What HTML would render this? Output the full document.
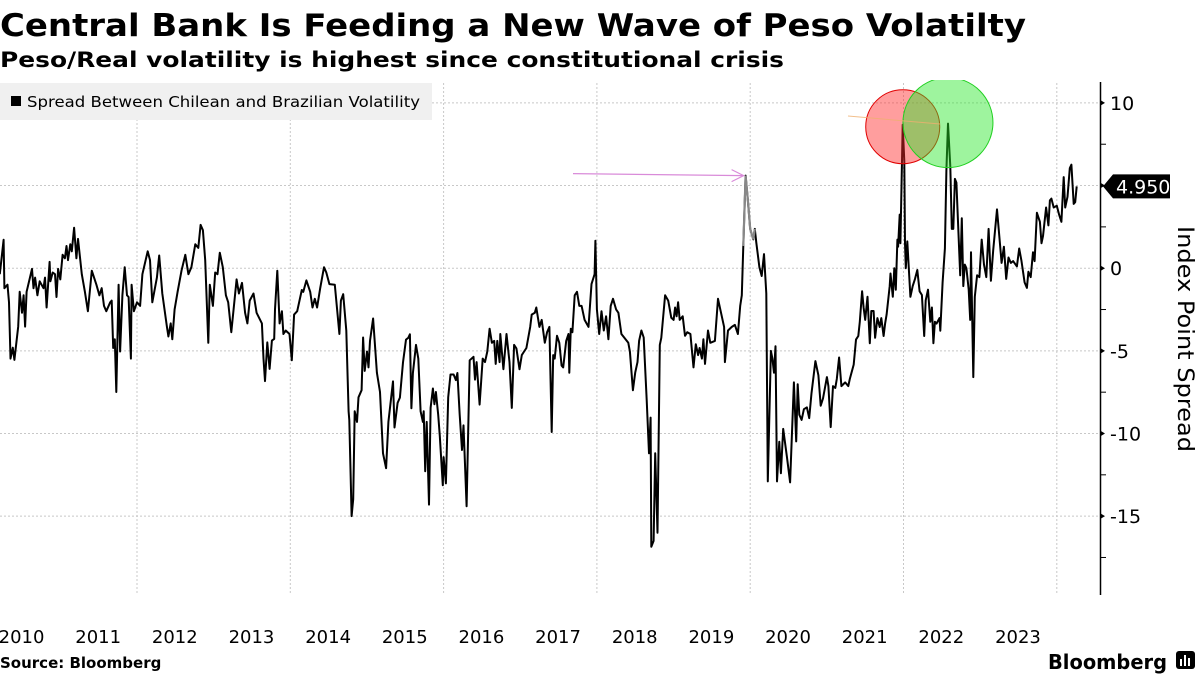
<!DOCTYPE html>
<html><head><meta charset="utf-8">
<style>
html,body{margin:0;padding:0;background:#fff;}
svg{display:block;font-family:"DejaVu Sans","Liberation Sans",sans-serif;}
</style></head>
<body>
<svg id="chart" width="1200" height="675" viewBox="0 0 1200 675">
<text x="0" y="36" font-size="31" font-weight="bold" textLength="1026" lengthAdjust="spacingAndGlyphs">Central Bank Is Feeding a New Wave of Peso Volatilty</text>
<text x="0" y="67" font-size="21" font-weight="bold" textLength="784" lengthAdjust="spacingAndGlyphs">Peso/Real volatility is highest since constitutional crisis</text>
<g id="grid"></g>
<g id="plot"></g>
<g>
<rect x="0" y="83" width="432" height="37" fill="#f0f0f0"/>
<rect x="11" y="96" width="10" height="10" fill="#000"/>
<text x="27" y="107" font-size="15" textLength="393" lengthAdjust="spacingAndGlyphs">Spread Between Chilean and Brazilian Volatility</text>
</g>
<g id="axis"></g>
<g id="xaxis"></g>
<text transform="translate(1178,226) rotate(90)" font-size="22" textLength="226" lengthAdjust="spacingAndGlyphs">Index Point Spread</text>
<text x="0" y="668" font-size="15" font-weight="bold">Source: Bloomberg</text>
<text x="1048" y="669" font-size="20" font-weight="bold" textLength="119" lengthAdjust="spacingAndGlyphs">Bloomberg</text>
<g>
<rect x="1176" y="651" width="19" height="18" rx="3" fill="#000"/>
<rect x="1180" y="659" width="2" height="7" fill="#fff"/><rect x="1184" y="655" width="2" height="11" fill="#fff"/><rect x="1188" y="658" width="2" height="8" fill="#fff"/>
</g>
</svg>
<script>
const dates=[2010.21,2010.26,2010.27,2010.31,2010.33,2010.35,2010.38,2010.40,2010.45,2010.47,2010.50,2010.52,2010.54,2010.56,2010.63,2010.65,2010.67,2010.70,2010.73,2010.78,2010.80,2010.82,2010.86,2010.87,2010.90,2010.93,2010.95,2010.97,2011.00,2011.03,2011.06,2011.08,2011.10,2011.13,2011.15,2011.18,2011.21,2011.23,2011.28,2011.32,2011.36,2011.41,2011.47,2011.51,2011.54,2011.57,2011.60,2011.65,2011.67,2011.69,2011.71,2011.73,2011.76,2011.78,2011.81,2011.84,2011.87,2011.89,2011.92,2011.93,2011.96,2012.00,2012.04,2012.07,2012.14,2012.17,2012.20,2012.26,2012.29,2012.33,2012.39,2012.41,2012.44,2012.46,2012.49,2012.53,2012.58,2012.63,2012.67,2012.71,2012.76,2012.80,2012.83,2012.86,2012.89,2012.93,2012.95,2012.99,2013.02,2013.05,2013.08,2013.12,2013.16,2013.19,2013.23,2013.30,2013.33,2013.37,2013.41,2013.44,2013.47,2013.52,2013.56,2013.63,2013.65,2013.67,2013.70,2013.73,2013.76,2013.79,2013.80,2013.83,2013.86,2013.89,2013.91,2013.94,2013.99,2014.02,2014.05,2014.09,2014.15,2014.17,2014.21,2014.26,2014.29,2014.32,2014.35,2014.39,2014.44,2014.47,2014.51,2014.58,2014.64,2014.66,2014.69,2014.73,2014.76,2014.77,2014.79,2014.80,2014.82,2014.84,2014.87,2014.89,2014.93,2014.95,2014.97,2015.00,2015.02,2015.04,2015.08,2015.13,2015.17,2015.21,2015.25,2015.28,2015.34,2015.36,2015.40,
2015.43,2015.47,2015.51,2015.54,2015.56,2015.58,2015.60,2015.64,2015.67,2015.70,2015.73,2015.74,2015.76,2015.78,2015.81,2015.83,2015.86,2015.88,2015.90,2015.93,2015.95,2015.99,2016.00,2016.03,2016.06,2016.09,2016.13,2016.16,2016.18,2016.21,2016.24,2016.26,2016.30,2016.34,2016.39,2016.41,2016.43,2016.47,2016.51,2016.54,2016.57,2016.60,2016.63,2016.66,2016.68,2016.70,2016.73,2016.74,2016.78,2016.82,2016.86,2016.89,2016.92,2016.95,2016.99,2017.02,2017.05,2017.08,2017.13,2017.15,2017.19,2017.21,2017.25,2017.28,2017.32,2017.35,2017.38,2017.41,2017.43,2017.45,2017.48,2017.51,2017.54,2017.56,2017.60,2017.63,2017.64,2017.66,2017.68,2017.71,2017.74,2017.77,2017.80,2017.84,2017.89,2017.93,2017.97,2017.98,2018.00,2018.03,2018.06,2018.09,2018.12,2018.15,2018.18,2018.21,2018.25,2018.28,2018.32,2018.41,2018.43,2018.47,2018.50,2018.53,2018.55,2018.58,2018.61,2018.65,2018.68,2018.70,2018.71,2018.74,2018.76,2018.79,2018.82,2018.84,2018.89,2018.93,2018.97,2019.00,2019.02,2019.04,2019.06,2019.08,2019.12,2019.15,2019.18,2019.22,2019.26,2019.29,2019.32,2019.34,2019.37,2019.39,2019.41,2019.45,2019.48,2019.54,2019.58,2019.61,2019.66,2019.67,2019.71,2019.76,2019.80,2019.84,2019.87,2019.89,2019.91,2019.94,2019.97,2020.00,2020.04,2020.06,2020.08,2020.12,2020.15,2020.18,2020.21,2020.23,2020.27,2020.29,2020.31,2020.33,2020.35,2020.38,2020.40,
2020.43,2020.48,2020.52,2020.57,2020.60,2020.62,2020.64,2020.67,2020.70,2020.74,2020.77,2020.80,2020.85,2020.89,2020.92,2020.95,2021.00,2021.02,2021.05,2021.08,2021.11,2021.13,2021.16,2021.19,2021.24,2021.28,2021.30,2021.35,2021.38,2021.41,2021.43,2021.46,2021.48,2021.50,2021.53,2021.56,2021.58,2021.61,2021.63,2021.66,2021.69,2021.71,2021.74,2021.76,2021.78,2021.82,2021.83,2021.86,2021.88,2021.90,2021.92,2021.93,2021.95,2021.96,2021.99,2022.01,2022.02,2022.03,2022.05,2022.09,2022.12,2022.15,2022.18,2022.21,2022.24,2022.27,2022.29,2022.32,2022.35,2022.37,2022.39,2022.41,2022.43,2022.47,2022.48,2022.51,2022.54,2022.56,2022.58,2022.61,2022.63,2022.65,2022.67,2022.69,2022.74,2022.76,2022.78,2022.80,2022.82,2022.85,2022.87,2022.88,2022.91,2022.93,2022.96,2022.99,2023.02,2023.05,2023.08,2023.11,2023.14,2023.17,2023.22,2023.25,2023.28,2023.31,2023.34,2023.37,2023.40,2023.43,2023.48,2023.51,2023.54,2023.58,2023.61,2023.63,2023.66,2023.69,2023.71,2023.74,2023.78,2023.80,2023.82,2023.86,2023.89,2023.91,2023.93,2023.96,2024.00,2024.03,2024.06,2024.09,2024.11,2024.14,2024.17,2024.19,2024.22,2024.24,2024.26];
const values=[-0.36,1.72,-1.21,-1.0,-2.06,-5.47,-4.81,-5.55,-3.53,-1.43,-2.70,-1.64,-3.53,-1.43,-0.04,-1.21,-0.57,-1.64,-0.79,-1.21,-0.57,-2.38,0.38,-0.79,-0.26,-0.36,-1.74,-0.04,-0.68,0.81,0.60,1.34,0.49,1.45,1.02,2.45,0.60,1.77,-0.36,-1.43,-2.60,-0.15,-1.0,-1.64,-1.21,-2.28,-2.60,-2.06,-1.96,-4.83,-4.30,-7.49,-1.0,-5.04,-1.64,0.06,-1.64,-1.74,-5.47,-1.0,-2.60,-2.06,-2.28,-0.36,1.02,0.49,-2.06,-0.57,0.77,-1.53,-3.53,-4.13,-3.34,-4.30,-2.49,-1.43,-0.15,0.81,-0.36,0.06,1.45,1.23,2.62,2.30,0.49,-4.51,-1.0,-2.28,-0.26,-0.36,0.94,0.06,-1.64,-2.06,-3.87,-0.68,-1.53,-0.89,-2.70,-3.34,-1.96,-1.53,-2.70,-3.34,-5.47,-6.83,-4.49,-6.09,-4.38,-4.28,-2.49,-0.15,-3.34,-2.60,-3.98,-3.77,-3.98,-5.57,-2.81,-2.60,-1.32,-1.43,-0.74,-1.43,-2.38,-1.85,-2.38,-1.21,0.06,-0.26,-0.96,-1.0,-3.98,-1.96,-1.57,-3.77,-8.66,-9.19,-13.19,-15.0,-13.98,-8.66,-9.30,-7.81,-7.38,-4.19,-6.21,-5.04,-6.0,-4.40,-3.04,-6.32,-7.49,-11.2,-12.1,-9.30,-6.85,-9.64,-8.15,
-7.83,-5.70,-4.32,-4.21,-4.0,-8.47,-6.34,-4.64,-5.47,-8.66,-9.30,-8.66,-12.28,-9.30,-14.3,-8.45,-7.28,-8.23,-7.49,-8.87,-10.15,-13.13,-11.43,-13.02,-7.81,-6.43,-6.43,-6.77,-6.34,-8.87,-11.0,-9.51,-14.4,-5.57,-5.36,-6.74,-5.68,-8.25,-5.47,-5.68,-5.04,-3.66,-4.51,-4.40,-5.79,-4.40,-5.68,-3.98,-6.11,-3.98,-5.68,-8.45,-4.64,-4.85,-6.11,-5.26,-5.04,-4.83,-3.55,-2.81,-2.70,-2.38,-3.55,-3.13,-4.51,-3.87,-3.55,-9.91,-5.26,-5.47,-4.09,-4.51,-5.89,-6.0,-4.40,-3.98,-6.32,-3.66,-3.87,-1.64,-1.43,-2.28,-2.28,-3.13,-3.55,-0.96,-0.36,1.66,-2.49,-3.98,-2.60,-3.77,-2.91,-4.30,-2.28,-1.85,-2.49,-2.70,-3.98,-4.51,-5.04,-7.38,-6.32,-5.68,-4.40,-3.77,-4.19,-7.98,-11.2,-9.04,-16.85,-16.5,-11.2,-16.0,-4.64,-4.21,-1.64,-1.96,-3.0,-3.13,-2.38,-2.91,-2.06,-3.13,-2.91,-4.09,-3.87,-3.98,-6.0,-4.60,-5.26,-4.83,-5.47,-4.30,-5.79,-3.77,-4.51,-4.40,-1.85,-2.49,-3.55,-5.68,-3.77,-3.55,-3.43,-3.98,-2.28,-1.64,1.34,5.6,4.09,2.38,1.74,2.38,1.55,0.06,-0.47,0.85,-1.53,-12.9,-5.0,-5.47,-6.32,-4.72,-12.9,-10.5,-12.4,
-9.72,-11.45,-12.96,-6.91,-10.48,-7.02,-8.86,-9.18,-8.53,-8.42,-9.07,-7.56,-5.62,-6.48,-8.32,-7.88,-6.59,-7.13,-9.61,-7.13,-7.24,-6.70,-5.40,-7.13,-6.91,-7.13,-6.70,-5.83,-4.32,-4.10,-3.24,-1.40,-2.38,-3.13,-1.73,-4.54,-2.59,-2.59,-4.21,-3.02,-3.56,-3.02,-4.10,-3.35,-2.81,-1.08,-0.32,-1.73,0.0,-1.30,1.73,1.30,3.24,1.51,8.68,6.48,1.51,0.0,1.62,-1.73,-1.08,-0.65,-0.11,-1.40,-1.62,-4.10,-1.94,-1.30,-3.24,-2.38,-4.54,-3.24,-3.35,-3.02,-3.78,-0.86,1.19,5.94,8.75,6.16,2.38,2.38,5.4,5.18,-0.43,3.02,-1.08,0.22,0.0,-1.30,-3.13,0.97,-6.59,-1.73,-0.43,-0.54,1.73,0.22,-0.54,2.38,-0.76,1.08,3.56,1.94,0.32,1.30,-0.65,0.65,0.32,0.43,0.11,1.19,0.43,-0.86,-1.19,-0.22,-0.54,0.97,0.43,3.35,2.81,1.51,1.94,3.67,2.59,4.10,4.21,3.67,3.78,3.24,2.81,5.51,3.67,4.32,6.05,6.26,3.89,4.0,4.95];
const yTicks=[10,5,0,-5,-10,-15];
const yMinor=[7.5,2.5,-2.5,-7.5,-12.5,-17.5];
const yearLabels=[2010,2011,2012,2013,2014,2015,2016,2017,2018,2019,2020,2021,2022,2023];
const gridYears=[2012,2014,2016,2018,2020,2022,2024];
const lastValue=4.95;
const highlightRange=[2019.91,2020.06];

const NS="http://www.w3.org/2000/svg";
function X(t){return 137+76.65*(t-2012);}
function Y(v){return 268.2-16.53*v;}
function mk(tag,attrs,parent){const e=document.createElementNS(NS,tag);for(const k in attrs)e.setAttribute(k,attrs[k]);parent.appendChild(e);return e;}
const grid=document.getElementById('grid'),plot=document.getElementById('plot'),axis=document.getElementById('axis'),xaxis=document.getElementById('xaxis');

yTicks.forEach(v=>{
  const l=mk('line',{x1:0,x2:1100,y1:Y(v),y2:Y(v),stroke:'#c8c8c8','stroke-width':1,'stroke-dasharray':'2,2'},grid);
  
  
  const tk=mk('path',{d:`M1100 ${Y(v)-3} L1105 ${Y(v)} L1100 ${Y(v)+3} Z`,fill:'#000'},axis);
  
  
  const t=mk('text',{x:1110,y:Y(v)+7,'font-size':19},axis);
  t.textContent=v<0?'-'+Math.abs(v):String(v);
  
  
});
yMinor.forEach(v=>{
  const m=mk('line',{x1:1100,x2:1106,y1:Y(v),y2:Y(v),stroke:'#000','stroke-width':1},axis);
  
  
});
gridYears.forEach(yr=>{
  const l=mk('line',{x1:X(yr),x2:X(yr),y1:83,y2:595,stroke:'#c8c8c8','stroke-width':1,'stroke-dasharray':'2,2'},grid);
  
  
});
const ax=mk('line',{x1:1100.5,x2:1100.5,y1:82,y2:595,stroke:'#000','stroke-width':1.5},axis);


yearLabels.forEach(yr=>{
  const t=mk('text',{x:X(yr+0.5)-0.5,y:643,'font-size':18,'text-anchor':'middle'},xaxis);
  t.textContent=String(yr);
  
  
});

// main series
let d='';
dates.forEach((t,i)=>{d+=(i?'L':'M')+X(t).toFixed(1)+' '+Y(values[i]).toFixed(1);});
const line=mk('path',{d:d,fill:'none',stroke:'#000','stroke-width':2,'stroke-linejoin':'round'},plot);


// highlighted segment
let hd='';let first=true;
dates.forEach((t,i)=>{if(t>=highlightRange[0]&&t<=highlightRange[1]){hd+=(first?'M':'L')+X(t).toFixed(1)+' '+Y(values[i]).toFixed(1);first=false;}});
const hl=mk('path',{d:hd,fill:'none',stroke:'#888','stroke-width':2.2},plot);



// annotations
const peakX=X(2019.94),peakY=Y(5.6);
const arr=mk('line',{x1:573,y1:peakY-2,x2:peakX-2,y2:peakY,stroke:'#d98bd9','stroke-width':1.2},plot);


const ah=mk('path',{d:`M${peakX-14} ${peakY-6} L${peakX-2} ${peakY} L${peakX-14} ${peakY+6}`,fill:'none',stroke:'#d98bd9','stroke-width':1.2},plot);


const c1=mk('circle',{cx:X(2021.99),cy:Y(8.68)+2,r:37,fill:'rgba(255,40,40,0.45)',stroke:'#e00000','stroke-width':1},plot);


mk('clipPath',{id:'clipTop'},plot).appendChild(Object.assign(document.createElementNS(NS,'rect'),{}));
const cr=document.querySelector('#clipTop rect');cr.setAttribute('x',0);cr.setAttribute('y',80);cr.setAttribute('width',1100);cr.setAttribute('height',520);
const c2=mk('circle',{cx:X(2022.58),cy:Y(8.75)-1,r:45,fill:'rgba(40,230,40,0.45)',stroke:'#20d020','stroke-width':1,'clip-path':'url(#clipTop)'},plot);


const ol=mk('line',{x1:848,y1:116,x2:940,y2:124,stroke:'#f0b070','stroke-width':1,opacity:0.8},plot);



// last value label
const ly=Y(lastValue);
const lb=mk('path',{d:`M1103 ${ly} L1113 ${ly-12} L1170 ${ly-12} L1170 ${ly+12} L1113 ${ly+12} Z`,fill:'#000'},axis);


const lt=mk('text',{x:1116,y:ly+7,'font-size':19,fill:'#fff'},axis);
lt.textContent=lastValue.toFixed(3);


</script>
</body></html>
